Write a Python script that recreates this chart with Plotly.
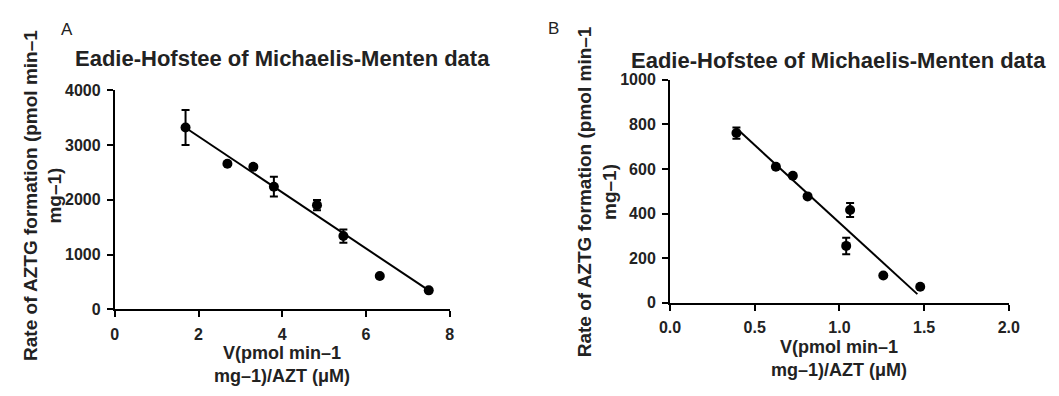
import numpy as np
import plotly.graph_objects as go

# ---- Panel A data ----
a_x = [1.69, 2.69, 3.31, 3.80, 4.83, 5.46, 6.33, 7.50]
a_y = [3320, 2661, 2603, 2241, 1904, 1340, 611, 349]
a_err = [320, 0, 0, 180, 95, 120, 0, 0]
a_intercept = 4180
a_slope = -511

# ---- Panel B data ----
b_x = [0.392, 0.625, 0.725, 0.812, 1.063, 1.040, 1.259, 1.477]
b_y = [761, 610, 570, 477, 416, 255, 122, 72]
b_err = [25, 0, 0, 0, 31, 37, 0, 0]
b_intercept = 1055
b_slope = -696
b_fit_range = [0.392, 1.46]

a_xticks = [0, 2, 4, 6, 8]
a_yticks = [0, 1000, 2000, 3000, 4000]
b_xticks = [0.0, 0.5, 1.0, 1.5, 2.0]
b_xticklabels = ["0.0", "0.5", "1.0", "1.5", "2.0"]
b_yticks = [0, 200, 400, 600, 800, 1000]

title_text = "Eadie-Hofstee of Michaelis-Menten data"
ytitle = "Rate of AZTG formation (pmol min\u20131<br>mg\u20131)"
xtitle = "V(pmol min\u20131<br>mg\u20131)/AZT (\u03bcM)"

W, H = 1059, 396
FONT = "Liberation Sans, Arial, sans-serif"

def px(x):
    return x / W

def py(y):
    return 1 - y / H

fig = go.Figure()

for xs, ys, errs, b0, b1, frange, xa, ya in [
    (a_x, a_y, a_err, a_intercept, a_slope, [min(a_x), max(a_x)], "x", "y"),
    (b_x, b_y, b_err, b_intercept, b_slope, b_fit_range, "x2", "y2"),
]:
    fx = np.array(frange)
    fig.add_trace(go.Scatter(
        x=fx, y=b0 + b1 * fx, mode="lines",
        line=dict(color="black", width=2), xaxis=xa, yaxis=ya,
        showlegend=False, hoverinfo="skip"))
    fig.add_trace(go.Scatter(
        x=xs, y=ys, mode="markers",
        marker=dict(symbol="circle", size=10, color="black"),
        error_y=dict(type="data", array=errs, visible=True,
                     color="black", thickness=2, width=4),
        xaxis=xa, yaxis=ya, showlegend=False))

axis_common = dict(
    showgrid=False, zeroline=False, showline=True, linecolor="black",
    linewidth=2, ticks="outside", ticklen=6, tickwidth=2, tickcolor="black",
    tickfont=dict(family=FONT, size=16, color="#222", weight="bold"),
    ticklabelstandoff=3, fixedrange=True,
)

fig.update_layout(
    width=W, height=H,
    margin=dict(l=0, r=0, t=0, b=0),
    paper_bgcolor="white", plot_bgcolor="white",
    xaxis=dict(domain=[px(106), px(448)], range=[0, 8], tickvals=a_xticks,
               anchor="y", **axis_common),
    yaxis=dict(domain=[py(315), py(86)], range=[0, 4000], tickvals=a_yticks,
               anchor="x", **axis_common),
    xaxis2=dict(domain=[px(673), px(1019)], range=[0, 2], tickvals=b_xticks,
                ticktext=b_xticklabels, anchor="y2", **axis_common),
    yaxis2=dict(domain=[py(308), py(75)], range=[0, 1000], tickvals=b_yticks,
                anchor="x2", **axis_common),
)

ann = []
def add_text(text, x, y, size, bold=True, angle=0):
    ann.append(dict(
        text=text, x=px(x), y=py(y), xref="paper", yref="paper",
        xanchor="center", yanchor="middle", showarrow=False, textangle=angle,
        font=dict(family=FONT, size=size, color="#222",
                  weight="bold" if bold else "normal")))

add_text("A", 57, 22, 17, bold=False)
add_text("B", 554, 21, 17, bold=False)
add_text(title_text, 277, 53, 22)
add_text(title_text, 845, 55, 22)
add_text(ytitle, 32, 196, 19, angle=-90)
add_text(ytitle, 598, 192, 19, angle=-90)
add_text(xtitle, 277, 373, 18)
add_text(xtitle, 846, 366, 18)

fig.update_layout(annotations=ann)

fig.write_html(
    "out.html",
    config={"displayModeBar": False},
    post_script="document.body.style.margin='0';document.body.style.overflow='hidden';",
)
